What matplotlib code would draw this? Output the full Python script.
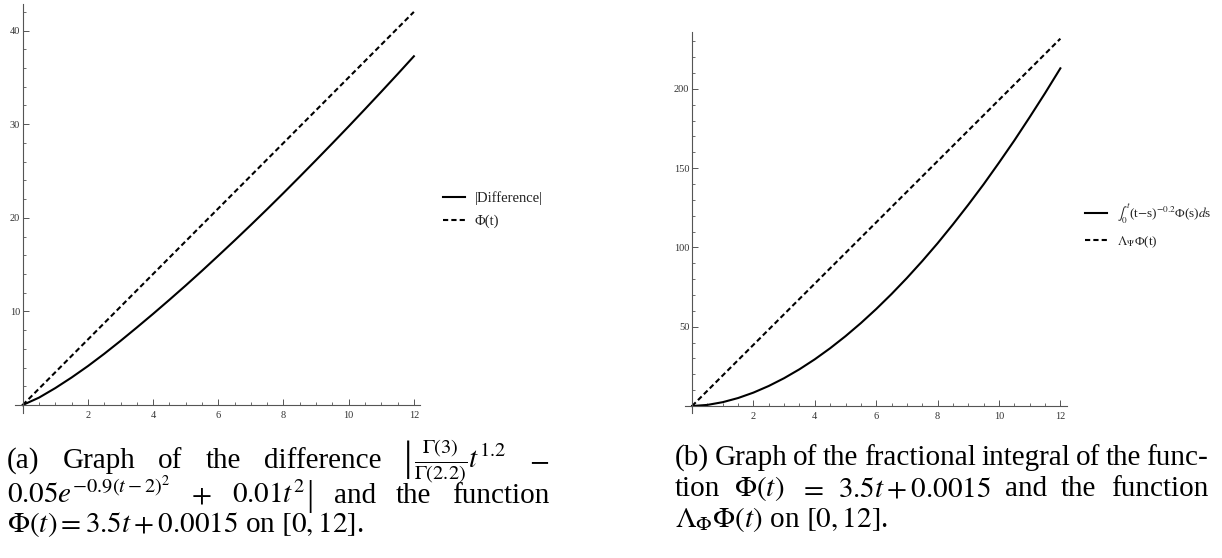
import numpy as np
import matplotlib
matplotlib.use('Agg')
import matplotlib.pyplot as plt
from matplotlib.ticker import FixedLocator, MultipleLocator
from matplotlib.lines import Line2D

plt.rcParams['font.family'] = ['Liberation Serif', 'DejaVu Serif']
plt.rcParams['mathtext.fontset'] = 'stix'

# values
t_fine = [0, 0.5, 1, 1.5, 2, 2.5, 3, 3.5, 4, 4.5, 5, 5.5, 6, 6.5, 7, 7.5,
          8, 8.5, 9, 9.5, 10, 10.5, 11, 11.5, 12]
t_int = [0, 1, 2, 3, 4, 5, 6, 7, 8, 9, 10, 11, 12]

# (a) |Difference| and Phi(t)
diff_vals = [0.00, 0.79, 1.81, 2.94, 4.16, 5.47, 6.85, 8.28, 9.74, 11.24,
             12.77, 14.34, 15.95, 17.58, 19.24, 20.93, 22.65, 24.40, 26.17,
             27.96, 29.77, 31.61, 33.47, 35.35, 37.26]
phi_vals = [0, 3.5, 7, 10.5, 14, 17.5, 21, 24.5, 28, 31.5, 35, 38.5, 42]

# (b) fractional integral and Lambda Phi(t)
integral_vals = [0, 0.70, 2.43, 5.04, 8.46, 12.65, 17.56, 23.18, 29.47, 36.44,
                 44.04, 52.28, 61.15, 70.62, 80.70, 91.37, 102.6, 114.5,
                 126.9, 139.8, 153.4, 167.4, 182.1, 197.2, 212.9]
lambda_vals = [0, 19.3, 38.6, 57.9, 77.2, 96.5, 115.8, 135.1, 154.4, 173.7,
               193.0, 212.3, 231.6]

x_major = [2, 4, 6, 8, 10, 12]
ya_major = [10, 20, 30, 40]
yb_major = [50, 100, 150, 200]

W, H = 1222, 558
fig = plt.figure(figsize=(W / 100, H / 100), dpi=100)


def px_axes(left, right, bottom, top):
    return fig.add_axes([left / W, 1 - bottom / H, (right - left) / W, (bottom - top) / H])


def style(ax, xlim, ylim, yticks, yminor):
    ax.set_xlim(xlim)
    ax.set_ylim(ylim)
    ax.patch.set_visible(False)
    for s in ['top', 'right']:
        ax.spines[s].set_visible(False)
    for s in ['left', 'bottom']:
        ax.spines[s].set_position(('data', 0))
        ax.spines[s].set_color('#555555')
        ax.spines[s].set_linewidth(0.8)
    ax.xaxis.set_major_locator(FixedLocator(x_major))
    ax.xaxis.set_minor_locator(MultipleLocator(0.5))
    ax.yaxis.set_major_locator(FixedLocator(yticks))
    ax.yaxis.set_minor_locator(MultipleLocator(yminor))
    ax.tick_params(which='both', direction='in', colors='#555555',
                   labelcolor='#333333', labelsize=7.5)
    ax.tick_params(which='major', length=4, width=0.7)
    ax.tick_params(which='minor', length=2.3, width=0.6)
    ax.tick_params(axis='x', pad=4)
    ax.tick_params(axis='y', pad=2)


ax_a = px_axes(14.9, 420.4, 412.5, 4.4)
ax_b = px_axes(685, 1066.5, 413, 32)

dash = (2.5, 1.5)
ax_a.plot(t_fine, diff_vals, color='black', lw=1.5)
ax_a.plot(t_int, phi_vals, color='black', lw=1.5, dashes=dash)
style(ax_a, (-0.24, 12.2), (-0.8, 42.8), ya_major, 2)

ax_b.plot(t_fine, integral_vals, color='black', lw=1.5)
ax_b.plot(t_int, lambda_vals, color='black', lw=1.5, dashes=dash)
style(ax_b, (-0.23, 12.2), (-4.4, 235.8), yb_major, 10)


def add_legend(ax, labels, x, yc, size):
    handles = [Line2D([], [], color='black', lw=1.5),
               Line2D([], [], color='black', lw=1.5, dashes=dash)]
    leg = ax.legend(handles, labels, loc='center left',
                    bbox_to_anchor=(x / W, 1 - yc / H), bbox_transform=fig.transFigure,
                    frameon=False, fontsize=size, handlelength=15.8 / size,
                    handletextpad=7.2 / size, labelspacing=0.65,
                    borderpad=0, borderaxespad=0)
    for txt in leg.get_texts():
        txt.set_color('#222222')


add_legend(ax_a, ['|Difference|', 'Φ(t)'], 443, 209.5, 10.5)
add_legend(ax_b, [r'$\int_0^t$(t$-$s)$^{-0.2}$Φ(s)$d$s', r'$\Lambda_\Psi$Φ(t)'],
           1085, 225.5, 9.5)

renderer = fig.canvas.get_renderer()
CAP = 21


def make_piece(p, y):
    # p is a string (caption size) or (text, size, baseline offset px)
    if isinstance(p, tuple):
        return fig.text(0, 1 - (y + p[2]) / H, p[0], fontsize=p[1], va='baseline', ha='left')
    return fig.text(0, 1 - y / H, p, fontsize=CAP, va='baseline', ha='left')


def caption_line(words, x0, x1, y, justify=True):
    # every word is a list of pieces set next to each other
    groups = []
    for w in words:
        pieces = w if isinstance(w, list) else [w]
        ts = [make_piece(p, y) for p in pieces]
        ws = [t.get_window_extent(renderer).width for t in ts]
        groups.append((ts, ws))
    total = sum(sum(ws) + 1 * (len(ws) - 1) for ts, ws in groups)
    n = len(groups)
    gap = (x1 - x0 - total) / (n - 1) if (justify and n > 1) else 0
    x = x0
    for ts, ws in groups:
        for t, wd in zip(ts, ws):
            t.set_x(x / W)
            x += wd + 1
        x += gap - 1


caption_line(['(a)', 'Graph', 'of', 'the', 'difference',
              [('|', 30, 2), r'$\frac{\Gamma(3)}{\Gamma(2.2)}t^{1.2}$'], '$-$'],
             7, 549, 468)
caption_line([r'$0.05e^{-0.9(t-2)^2}$', '$+$', [r'$0.01t^{2}$', ('|', 26, 2)],
              'and', 'the', 'function'], 7, 549, 503)
caption_line([r'$\Phi(t) = 3.5t + 0.0015$ on $[0, 12]$.'], 7, 549, 532, justify=False)

caption_line(['(b)', 'Graph', 'of', 'the', 'fractional', 'integral', 'of', 'the', 'func-'],
             675, 1208, 465)
caption_line(['tion', r'$\Phi(t)$', '$=$', r'$3.5t+0.0015$', 'and', 'the', 'function'],
             675, 1208, 496)
caption_line([r'$\Lambda_{\Phi}\Phi(t)$ on $[0, 12]$.'], 675, 1208, 527, justify=False)

fig.savefig('out.png', dpi=100)
